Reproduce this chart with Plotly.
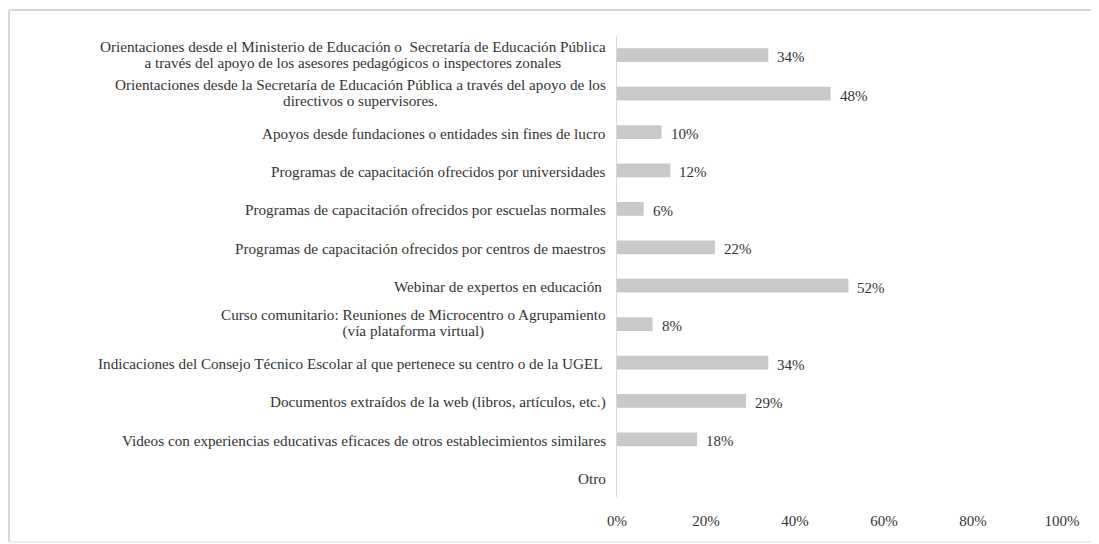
import plotly.graph_objects as go

categories = [
    "Orientaciones desde el Ministerio de Educación o  Secretaría de Educación Pública<br>a través del apoyo de los asesores pedagógicos o inspectores zonales",
    "Orientaciones desde la Secretaría de Educación Pública a través del apoyo de los<br>directivos o supervisores.",
    "Apoyos desde fundaciones o entidades sin fines de lucro",
    "Programas de capacitación ofrecidos por universidades",
    "Programas de capacitación ofrecidos por escuelas normales",
    "Programas de capacitación ofrecidos por centros de maestros",
    "Webinar de expertos en educación\u00a0",
    "Curso comunitario: Reuniones de Microcentro o Agrupamiento<br>(vía plataforma virtual)",
    "Indicaciones del Consejo Técnico Escolar al que pertenece su centro o de la UGEL\u00a0",
    "Documentos extraídos de la web (libros, artículos, etc.)",
    "Videos con experiencias educativas eficaces de otros establecimientos similares",
    "Otro",
]
values = [34, 48, 10, 12, 6, 22, 52, 8, 34, 29, 18, 0]
value_labels = ["34%", "48%", "10%", "12%", "6%", "22%", "52%", "8%", "34%", "29%", "18%", ""]
tick_vals = [0, 20, 40, 60, 80, 100]
tick_text = ["0%", "20%", "40%", "60%", "80%", "100%"]

FONT = "Liberation Serif"
TXT = "#333333"
LBL = 15.2
ids = list(range(len(categories)))

fig = go.Figure()
fig.add_trace(go.Bar(
    x=values, y=ids, orientation="h",
    marker=dict(color="#c9c9c9", line=dict(width=0)),
    width=0.36, hoverinfo="skip",
))

annotations = []
for i, (cat, v, lab) in enumerate(zip(categories, values, value_labels)):
    parts = cat.split("<br>")
    if len(parts) > 1:
        txt = "<br>".join(f'<span style="font-size:{LBL}px">{p}</span>' for p in parts)
        size, ysh = 12.3, 1
    else:
        txt, size, ysh = cat, LBL, -1
    annotations.append(dict(
        x=0, xref="paper", y=i, yref="y", text=txt, showarrow=False,
        xanchor="right", align="center", xshift=-9, yshift=ysh,
        font=dict(family=FONT, size=size, color=TXT),
    ))
    if lab:
        annotations.append(dict(
            x=v, xref="x", y=i, yref="y", text=lab, showarrow=False,
            xanchor="left", xshift=7, yshift=-2,
            font=dict(family=FONT, size=15, color=TXT),
        ))

frame = "#d6d6d6"
XL, YT, YB = -1.366, 1.0564, -0.0976
shapes = [
    dict(type="line", xref="paper", yref="paper", x0=XL, x1=1.2, y0=YT, y1=YT,
         line=dict(color=frame, width=2)),
    dict(type="line", xref="paper", yref="paper", x0=XL, x1=XL, y0=YT, y1=YB,
         line=dict(color=frame, width=2)),
    dict(type="line", xref="paper", yref="paper", x0=XL, x1=1.2, y0=YB, y1=YB,
         line=dict(color="#eeeeee", width=2)),
]

fig.update_layout(
    width=1099, height=544,
    margin=dict(l=609, r=45, t=28, b=55),
    paper_bgcolor="white", plot_bgcolor="white",
    showlegend=False,
    annotations=annotations,
    shapes=shapes,
    font=dict(family=FONT, size=15, color=TXT),
)
fig.update_xaxes(
    range=[0, 100], tickvals=tick_vals, ticktext=tick_text,
    showgrid=False, zeroline=False, showline=False, ticks="",
    ticklabelstandoff=13,
    tickfont=dict(family=FONT, size=15, color=TXT),
)
fig.update_yaxes(
    range=[len(categories) - 0.5, -0.5], tickvals=[], showticklabels=False,
    showgrid=False, zeroline=False, showline=True, linecolor="#d9d9d9", linewidth=1,
)

fig.write_html("out.html")
